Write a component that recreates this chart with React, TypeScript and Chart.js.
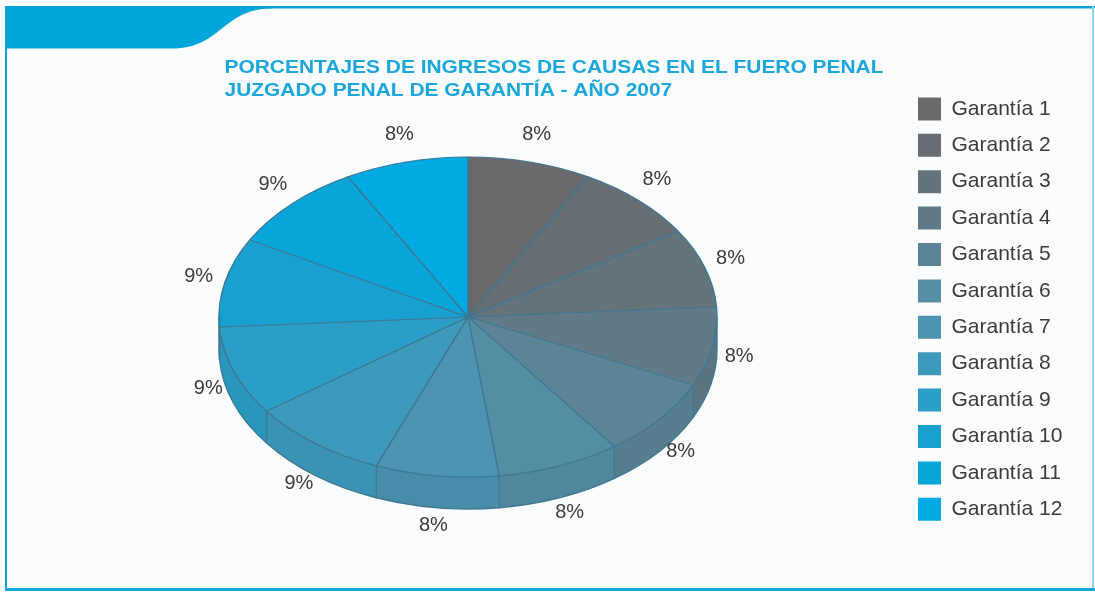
import React, { useEffect, useRef } from 'react';
import { Chart, registerables } from 'chart.js';

Chart.register(...registerables);

// ---- Data ----
const categories = [
  'Garantía 1', 'Garantía 2', 'Garantía 3', 'Garantía 4', 'Garantía 5', 'Garantía 6',
  'Garantía 7', 'Garantía 8', 'Garantía 9', 'Garantía 10', 'Garantía 11', 'Garantía 12',
];
const percentages = [8, 8, 8, 8, 8, 8, 8, 9, 9, 9, 9, 8];
const sliceColors = [
  '#6a6a6d', '#676e74', '#65737b', '#607b87', '#5b8596', '#548ea5',
  '#4b94b2', '#3d9abd', '#2b9ec7', '#18a1d0', '#08a5d9', '#00aae2',
];
const titleLines = [
  'PORCENTAJES DE INGRESOS DE CAUSAS EN EL FUERO PENAL',
  'JUZGADO PENAL DE GARANTÍA - AÑO 2007',
];

// ---- Styling constants ----
const W = 1095;
const H = 593;
const TOP_CY = 317;      // vertical centre of the tilted top face
const TILT = 160 / 249;  // vertical squash of the pie
const DEPTH = 32;        // thickness of the pie
const EDGE = '#3e7893';
const FONT = '"Liberation Sans", Arial, Helvetica, sans-serif';

function shade(hex: string, f: number): string {
  const n = parseInt(hex.slice(1), 16);
  const r = Math.round(((n >> 16) & 255) * f);
  const g = Math.round(((n >> 8) & 255) * f);
  const b = Math.round((n & 255) * f);
  return `rgb(${r},${g},${b})`;
}

const framePlugin = {
  id: 'frame',
  beforeDraw(chart: any) {
    const ctx = chart.ctx as CanvasRenderingContext2D;
    ctx.save();
    ctx.fillStyle = '#ffffff';
    ctx.fillRect(0, 0, W, H);
    ctx.fillStyle = '#fafcfe';
    ctx.fillRect(6, 8, 1087, 581);
    // top-left tab
    ctx.fillStyle = '#00a6d9';
    ctx.beginPath();
    ctx.moveTo(5, 6);
    ctx.lineTo(272, 6);
    ctx.lineTo(272, 8.5);
    ctx.bezierCurveTo(222, 8.5, 222, 48.5, 172, 48.5);
    ctx.lineTo(5, 48.5);
    ctx.closePath();
    ctx.fill();
    // borders
    ctx.fillStyle = '#0ca4da';
    ctx.fillRect(5, 6, 1090, 2.5);
    ctx.fillRect(5, 6, 2, 585);
    ctx.fillStyle = '#8fd6ef';
    ctx.fillRect(1092, 6, 2, 585);
    ctx.fillStyle = '#12a6dc';
    ctx.fillRect(5, 588, 1090, 3);
    // title
    ctx.fillStyle = '#1ba7dc';
    ctx.font = `bold 18px ${FONT}`;
    ctx.textAlign = 'left';
    ctx.textBaseline = 'alphabetic';
    const w1 = ctx.measureText(titleLines[0]).width;
    const sx = 659 / w1;
    titleLines.forEach((line, i) => {
      ctx.save();
      ctx.translate(224.5, 72.5 + i * 23);
      ctx.scale(sx, 1);
      ctx.fillText(line, 0, 0);
      ctx.restore();
    });
    ctx.restore();
  },
};

const pie3dPlugin = {
  id: 'pie3d',
  beforeDatasetsDraw(chart: any) {
    const ctx = chart.ctx as CanvasRenderingContext2D;
    const meta = chart.getDatasetMeta(0);
    const arcs = meta.data as any[];
    (chart as any).$pieSaved = false;
    if (!arcs.length) return;
    ctx.save();
    arcs.forEach((arc, i) => {
      const { x, startAngle, endAngle, outerRadius } = arc.getProps(
        ['x', 'startAngle', 'endAngle', 'outerRadius'], true);
      const a = Math.max(startAngle, 0);
      const b = Math.min(endAngle, Math.PI);
      if (b <= a) return;
      const rx = outerRadius;
      const ry = outerRadius * TILT;
      const cy = TOP_CY;
      ctx.beginPath();
      ctx.ellipse(x, cy, rx, ry, 0, a, b);
      ctx.lineTo(x + rx * Math.cos(b), cy + ry * Math.sin(b) + DEPTH);
      ctx.ellipse(x, cy + DEPTH, rx, ry, 0, b, a, true);
      ctx.closePath();
      ctx.fillStyle = shade(sliceColors[i], 0.95);
      ctx.fill();
      ctx.strokeStyle = EDGE;
      ctx.lineWidth = 1.4;
      ctx.lineJoin = 'round';
      ctx.stroke();
    });
    ctx.restore();
    ctx.save();
    ctx.translate(0, TOP_CY);
    ctx.scale(1, TILT);
    ctx.translate(0, -arcs[0].y);
    (chart as any).$pieSaved = true;
  },
  afterDatasetsDraw(chart: any) {
    const ctx = chart.ctx as CanvasRenderingContext2D;
    if ((chart as any).$pieSaved) ctx.restore();
    const meta = chart.getDatasetMeta(0);
    const arcs = meta.data as any[];
    ctx.save();
    ctx.fillStyle = '#3b3b3b';
    ctx.font = `20px ${FONT}`;
    ctx.textAlign = 'center';
    ctx.textBaseline = 'middle';
    arcs.forEach((arc, i) => {
      const { x, startAngle, endAngle, outerRadius } = arc.getProps(
        ['x', 'startAngle', 'endAngle', 'outerRadius'], true);
      const mid = (startAngle + endAngle) / 2;
      const c = Math.cos(mid);
      const s = Math.sin(mid);
      const rx = outerRadius + 27;
      const ry = outerRadius * TILT + 28;
      const px = x + rx * c;
      const py = TOP_CY + ry * s + (s > 0 ? DEPTH * 0.7 * s : 0);
      ctx.fillText(`${percentages[i]}%`, px, py);
    });
    ctx.restore();
  },
};

export default function App() {
  const ref = useRef<HTMLCanvasElement>(null);
  useEffect(() => {
    if (!ref.current) return;
    const chart = new Chart(ref.current, {
      type: 'pie',
      data: {
        labels: categories,
        datasets: [
          {
            data: percentages,
            backgroundColor: sliceColors,
            borderColor: EDGE,
            borderWidth: 1.5,
            radius: 249,
            clip: false,
          } as any,
        ],
      },
      options: {
        responsive: false,
        animation: false,
        events: [],
        layout: { padding: { left: 31.4, right: 22.6, top: 84, bottom: 11 } },
        plugins: {
          title: { display: false },
          tooltip: { enabled: false },
          legend: {
            position: 'right',
            align: 'start',
            labels: {
              boxWidth: 23,
              boxHeight: 23,
              padding: 13.4,
              color: '#3b3b3b',
              font: { size: 21, family: FONT },
              generateLabels: (ch: any) => {
                const base = (Chart as any).overrides.pie.plugins.legend.labels.generateLabels(ch);
                return base.map((it: any) => ({ ...it, strokeStyle: it.fillStyle, lineWidth: 0 }));
              },
            },
          },
        },
      } as any,
      plugins: [framePlugin, pie3dPlugin],
    });
    return () => chart.destroy();
  }, []);
  return (
    <div style={{ position: 'fixed', left: 0, top: 0, width: W, height: H }}>
      <canvas ref={ref} width={W} height={H} style={{ display: 'block' }} />
    </div>
  );
}
